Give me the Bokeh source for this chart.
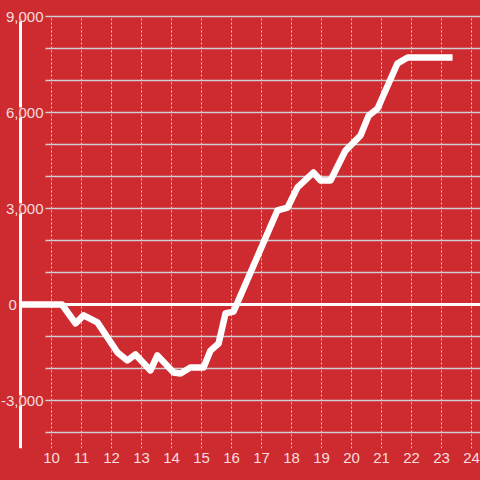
from bokeh.plotting import figure
from bokeh.models import FixedTicker, Label, GlobalInlineStyleSheet
from bokeh.embed import file_html
from bokeh.resources import INLINE

# ---- data ----
hours = [9.0, 10.35, 10.8, 11.07, 11.53, 12.2, 12.53, 12.8, 13.3, 13.53, 14.07, 14.3,
         14.63, 15.07, 15.3, 15.57, 15.8, 16.07, 17.53, 17.87, 18.2, 18.73, 18.97,
         19.3, 19.8, 20.3, 20.57, 20.87, 21.53, 21.87, 23.37]
values = [0, 0, -590, -340, -560, -1500, -1750, -1560, -2060, -1590, -2125, -2155,
          -1970, -1970, -1440, -1220, -280, -220, 2940, 3030, 3660, 4125, 3875,
          3875, 4810, 5280, 5900, 6125, 7530, 7720, 7720]

x_ticks = list(range(10, 25))
x_tick_labels = [str(t) for t in x_ticks]
y_grid_ticks = list(range(-4000, 9001, 1000))
y_label_ticks = [-3000, 0, 3000, 6000, 9000]
y_tick_labels = ["-3,000", "0", "3,000", "6,000", "9,000"]

RED = "#cd2b30"
FONT = "Liberation Sans"
GRID = "#cfcfcf"

X0, X1 = 8.3, 24.3
Y0, Y1 = -4500, 9500
AXIS_X = 9 - 1 / 30          # position of the vertical axis line
GRID_X0 = x_ticks[0] - 0.2   # where horizontal grid lines begin

p = figure(width=480, height=480, output_backend="svg", toolbar_location=None,
           x_range=(X0, X1), y_range=(Y0, Y1), y_axis_location=None,
           min_border=0, min_border_bottom=32,
           background_fill_color=RED, border_fill_color=RED, outline_line_color=None)
p.stylesheets = [GlobalInlineStyleSheet(
    css="html, body {margin:0; padding:0; background:#cd2b30; overflow:hidden;}")]

# x axis (labels only)
p.xaxis.ticker = FixedTicker(ticks=x_ticks)
p.xaxis.major_label_overrides = {t: l for t, l in zip(x_ticks, x_tick_labels)}
p.xaxis.axis_line_color = None
p.xaxis.major_tick_line_color = None
p.xaxis.minor_tick_line_color = None
p.xaxis.major_tick_out = 0
p.xaxis.major_tick_in = 0
p.xaxis.major_label_standoff = 4
p.xaxis.major_label_text_font = FONT
p.xaxis.major_label_text_font_size = "15px"
p.xaxis.major_label_text_color = "white"
p.xaxis.major_label_text_alpha = 0.85

p.xgrid.visible = False
p.ygrid.visible = False

top_grid = max(y_grid_ticks)

# vertical dotted grid lines
p.segment(x0=x_ticks, y0=[Y0] * len(x_ticks), x1=x_ticks, y1=[top_grid] * len(x_ticks),
          line_color=GRID, line_width=1, line_dash="2 2")
# horizontal grid lines
p.segment(x0=[GRID_X0] * len(y_grid_ticks), y0=y_grid_ticks,
          x1=[X1] * len(y_grid_ticks), y1=y_grid_ticks,
          line_color=GRID, line_width=1.5)
# vertical axis line
p.segment(x0=[AXIS_X], y0=[Y0], x1=[AXIS_X], y1=[top_grid], line_color="white", line_width=3)
# zero line
p.segment(x0=[AXIS_X], y0=[0], x1=[X1], y1=[0], line_color="white", line_width=3)

# data line
p.line(hours, values, line_color="white", line_width=6.5, line_join="round")

# y labels
for t, lab in zip(y_label_ticks, y_tick_labels):
    if t == 0:
        lbl = Label(x=AXIS_X, y=t, x_offset=-12, text=lab, text_align="left",
                    text_baseline="middle")
    else:
        lbl = Label(x=AXIS_X, y=t, x_offset=23, text=lab, text_align="right",
                    text_baseline="middle")
    lbl.text_font = FONT
    lbl.text_font_size = "15px"
    lbl.text_color = "white"
    lbl.text_alpha = 0.85
    lbl.background_fill_color = RED
    lbl.background_fill_alpha = 0.92
    p.add_layout(lbl)

open("out.html", "w").write(file_html(p, INLINE))
